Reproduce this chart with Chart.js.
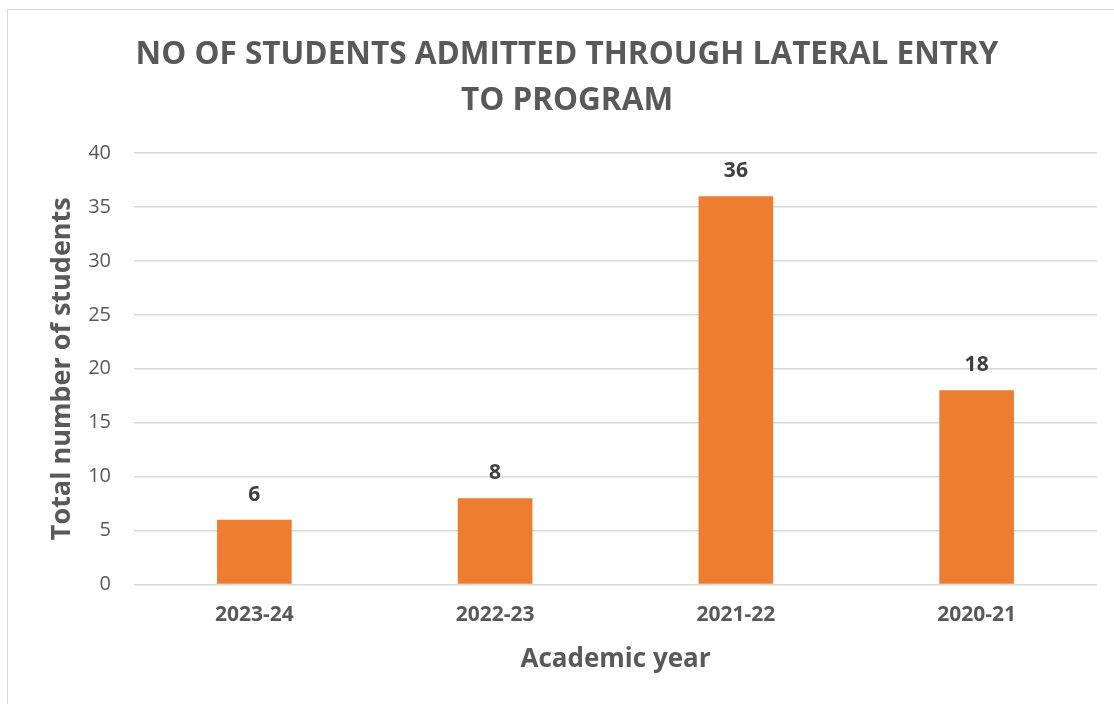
<!DOCTYPE html>
<html>
<head>
<meta charset="utf-8">
<script src="https://cdn.jsdelivr.net/npm/chart.js@4"></script>
<style>
  html, body { margin: 0; padding: 0; background: #fff; overflow: hidden; }
  #frame {
    position: absolute; left: 7px; top: 9px; width: 1130px; height: 720px;
    border: 1px solid #d9d9d9; box-sizing: border-box;
  }
  #wrap { position: absolute; left: 0; top: 0; width: 1114px; height: 704px; }
</style>
</head>
<body>
<div id="frame"></div>
<div id="wrap"><canvas id="c" width="1114" height="704"></canvas></div>
<script>
// Lateral-entry admissions per academic year
const years = ['2023-24', '2022-23', '2021-22', '2020-21'];
const students = [6, 8, 36, 18];
const yTicks = [0, 5, 10, 15, 20, 25, 30, 35, 40];

const FONT = "'Open Sans', 'Liberation Sans', sans-serif";
const GREY = '#595959';

// Value labels drawn just above each bar
const valueLabels = {
  id: 'valueLabels',
  afterDatasetsDraw(chart) {
    const ctx = chart.ctx;
    const meta = chart.getDatasetMeta(0);
    ctx.save();
    ctx.font = 'bold 21px ' + FONT;
    ctx.fillStyle = '#404040';
    ctx.textAlign = 'center';
    ctx.textBaseline = 'middle';
    meta.data.forEach((bar, i) => {
      ctx.fillText(String(chart.data.datasets[0].data[i]), bar.x, bar.y - 25);
    });
    ctx.restore();
  }
};

new Chart(document.getElementById('c'), {
  type: 'bar',
  data: {
    labels: years,
    datasets: [{
      data: students,
      backgroundColor: '#ED7D31',
      borderWidth: 0,
      barPercentage: 0.31,
      categoryPercentage: 1.0
    }]
  },
  options: {
    responsive: false,
    animation: false,
    layout: { padding: { left: 37, right: 17, top: 0, bottom: 31 } },
    plugins: {
      legend: { display: false },
      tooltip: { enabled: false },
      title: {
        display: true,
        text: ['NO OF STUDENTS ADMITTED THROUGH LATERAL ENTRY', 'TO PROGRAM'],
        color: GREY,
        font: { family: FONT, size: 31.5, weight: 'bold', lineHeight: 46 / 31.5 },
        padding: { top: 32, bottom: 29 }
      }
    },
    scales: {
      x: {
        grid: { display: false, drawTicks: false },
        border: { display: false },
        ticks: {
          color: GREY,
          padding: 18,
          maxRotation: 0,
          font: { family: FONT, size: 21, weight: 'bold' }
        },
        title: {
          display: true,
          text: 'Academic year',
          color: GREY,
          font: { family: FONT, size: 26, weight: 'bold', lineHeight: 1.05 },
          padding: { top: 0, bottom: 0 }
        }
      },
      y: {
        min: 0,
        max: 40,
        afterBuildTicks(scale) {
          scale.ticks = yTicks.map(v => ({ value: v }));
        },
        afterFit(scale) { scale.width = 97; },
        grid: { color: '#d9d9d9', lineWidth: 1.5, drawTicks: false },
        border: { display: false },
        ticks: {
          color: GREY,
          padding: 23,
          font: { family: FONT, size: 20 }
        },
        title: {
          display: true,
          text: 'Total number of students',
          color: GREY,
          font: { family: FONT, size: 27, weight: 'bold' },
          padding: { top: 9, bottom: 0 }
        }
      }
    }
  },
  plugins: [valueLabels]
});
</script>
</body>
</html>
